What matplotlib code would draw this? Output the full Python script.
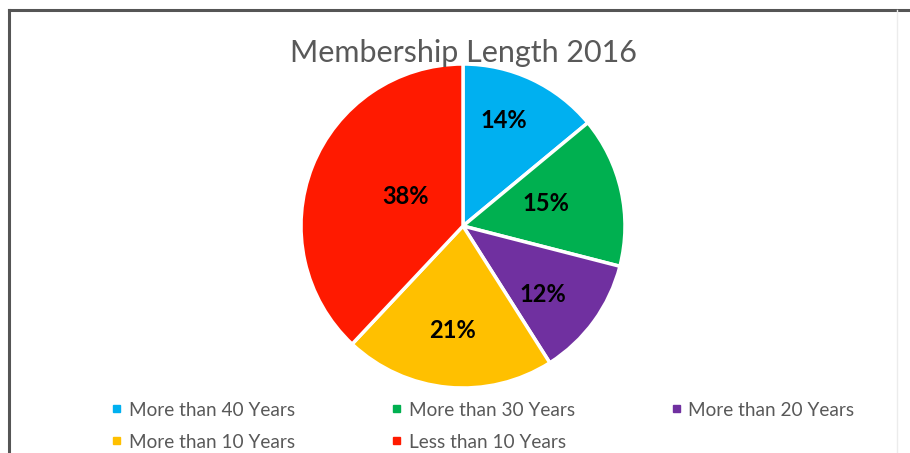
import numpy as np
import matplotlib.pyplot as plt
from matplotlib.lines import Line2D
from matplotlib.patches import Rectangle

categories = ["More than 40 Years", "More than 30 Years", "More than 20 Years",
              "More than 10 Years", "Less than 10 Years"]
shares = [14, 15, 12, 21, 38]
colors = ["#00B0F0", "#00B050", "#7030A0", "#FFC000", "#FF1A00"]
# label placement inside each slice (fraction of radius, angle nudge in degrees)
label_dist = [0.70, 0.53, 0.65, 0.65, 0.40]
label_nudge = [4.3, 2.5, -4.7, -0.3, -5.2]

plt.rcParams['font.family'] = ['Lato', 'DejaVu Sans']

fig = plt.figure(figsize=(9.1, 4.53), dpi=100)
W, H = 910, 453

# chart border (left/top, faint right, bottom is cut off)
fig.add_artist(Line2D([9 / W, 9 / W], [0, 1 - 10 / H], color="#555555", lw=2.2))
fig.add_artist(Line2D([9 / W, 1], [1 - 10 / H, 1 - 10 / H], color="#555555", lw=2.2))
fig.add_artist(Line2D([897 / W, 897 / W], [0, 1 - 10 / H], color="#ececec", lw=1))

cx, cy, r = 463, 226, 162
ax = fig.add_axes([(cx - r) / W, (H - cy - r) / H, 2 * r / W, 2 * r / H])
wedges, _ = ax.pie(shares, colors=colors, startangle=90, counterclock=False,
                   wedgeprops=dict(edgecolor="white", linewidth=2.5))
ax.set_xlim(-1, 1)
ax.set_ylim(-1, 1)
ax.set_aspect("equal")
ax.axis("off")

total = sum(shares)
start = 90.0
for v, d, n in zip(shares, label_dist, label_nudge):
    mid = np.deg2rad(start - v / total * 360 / 2 + n)
    start -= v / total * 360
    ax.text(d * np.cos(mid), d * np.sin(mid), f"{v}%", ha="center", va="center",
            fontsize=17, fontweight="bold", color="black")

fig.text(464 / W, 1 - 62 / H, "Membership Length 2016", ha="center", va="baseline",
         fontsize=22, color="#595959")

# legend, laid out like the Excel one
mark_x = [116.5, 396.5, 676]
text_x = [129, 409, 688]
mark_y = [408, 440]
base_y = [416, 448]
for i, (name, c) in enumerate(zip(categories, colors)):
    row, col = divmod(i, 3)
    fig.add_artist(Rectangle(((mark_x[col] - 3.5) / W, 1 - (mark_y[row] + 3.5) / H),
                             7 / W, 7 / H, color=c, transform=fig.transFigure))
    fig.text(text_x[col] / W, 1 - base_y[row] / H, name, ha="left", va="baseline",
             fontsize=13.7, color="#595959")

fig.savefig("out.png", dpi=100)
